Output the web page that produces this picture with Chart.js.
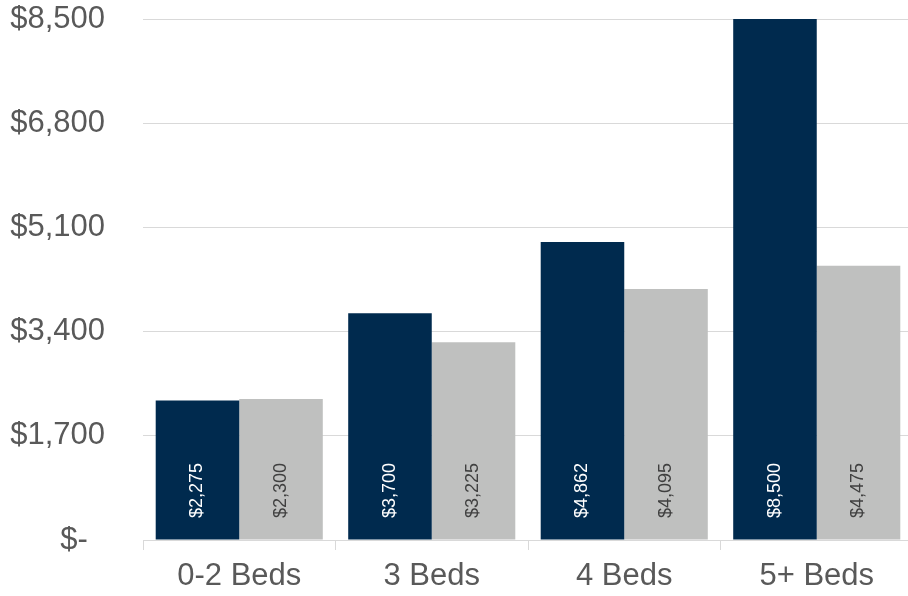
<!DOCTYPE html>
<html>
<head>
<meta charset="utf-8">
<script src="https://cdn.jsdelivr.net/npm/chart.js@4/dist/chart.umd.min.js"></script>
<style>
html,body{margin:0;padding:0;background:#fff;overflow:hidden;}
#wrap{width:908px;height:596px;position:relative;overflow:hidden;}
</style>
</head>
<body>
<div id="wrap"><canvas id="c" width="913" height="596"></canvas></div>
<script>
const categories = ["0-2 Beds", "3 Beds", "4 Beds", "5+ Beds"];
const seriesA = [2275, 3700, 4862, 8500];
const seriesB = [2300, 3225, 4095, 4475];
const yTicks = [0, 1700, 3400, 5100, 6800, 8500];

function money(v) {
  if (v === 0) return "$-  ";
  return "$" + v.toLocaleString("en-US");
}

const barLabels = {
  id: "barLabels",
  afterDatasetsDraw(chart) {
    const ctx = chart.ctx;
    const yBase = chart.scales.y.getPixelForValue(0);
    chart.data.datasets.forEach((ds, di) => {
      const meta = chart.getDatasetMeta(di);
      meta.data.forEach((bar, i) => {
        ctx.save();
        ctx.translate(bar.x, yBase - 22);
        ctx.rotate(-Math.PI / 2);
        ctx.font = "18px 'Liberation Sans', Arial, sans-serif";
        ctx.fillStyle = di === 0 ? "#ffffff" : "#404040";
        ctx.textAlign = "left";
        ctx.textBaseline = "middle";
        ctx.fillText(money(ds.data[i]), 0, 0);
        ctx.restore();
      });
    });
  }
};

new Chart(document.getElementById("c"), {
  type: "bar",
  data: {
    labels: categories,
    datasets: [
      { data: seriesA, backgroundColor: "#002A4E", barPercentage: 1, categoryPercentage: 0.868 },
      { data: seriesB, backgroundColor: "#BFC0BF", barPercentage: 1, categoryPercentage: 0.868 }
    ]
  },
  options: {
    responsive: false,
    animation: false,
    devicePixelRatio: 1,
    layout: { padding: { top: 19, right: 0, bottom: 0, left: 0 } },
    plugins: { legend: { display: false }, tooltip: { enabled: false } },
    scales: {
      x: {
        grid: { display: true, drawOnChartArea: false, drawTicks: true, tickLength: 10, color: "#D9D9D9", offset: true },
        border: { display: true, color: "#D9D9D9" },
        ticks: { color: "#595959", font: { family: "'Liberation Sans', Arial, sans-serif", size: 31 }, padding: 8, maxRotation: 0 },
        afterFit(s) { s.height = 56; s.paddingLeft = 0; s.paddingRight = 0; }
      },
      y: {
        min: 0, max: 8500,
        afterBuildTicks(s) { s.ticks = yTicks.map(v => ({ value: v })); },
        grid: { color: "#D9D9D9", drawTicks: false },
        border: { display: false },
        ticks: {
          color: "#595959",
          font: { family: "'Liberation Sans', Arial, sans-serif", size: 31 },
          padding: 38,
          callback: (v) => money(v)
        },
        afterFit(s) { s.width = 143; s.paddingTop = 0; s.paddingBottom = 0; }
      }
    }
  },
  plugins: [barLabels]
});
</script>
</body>
</html>
